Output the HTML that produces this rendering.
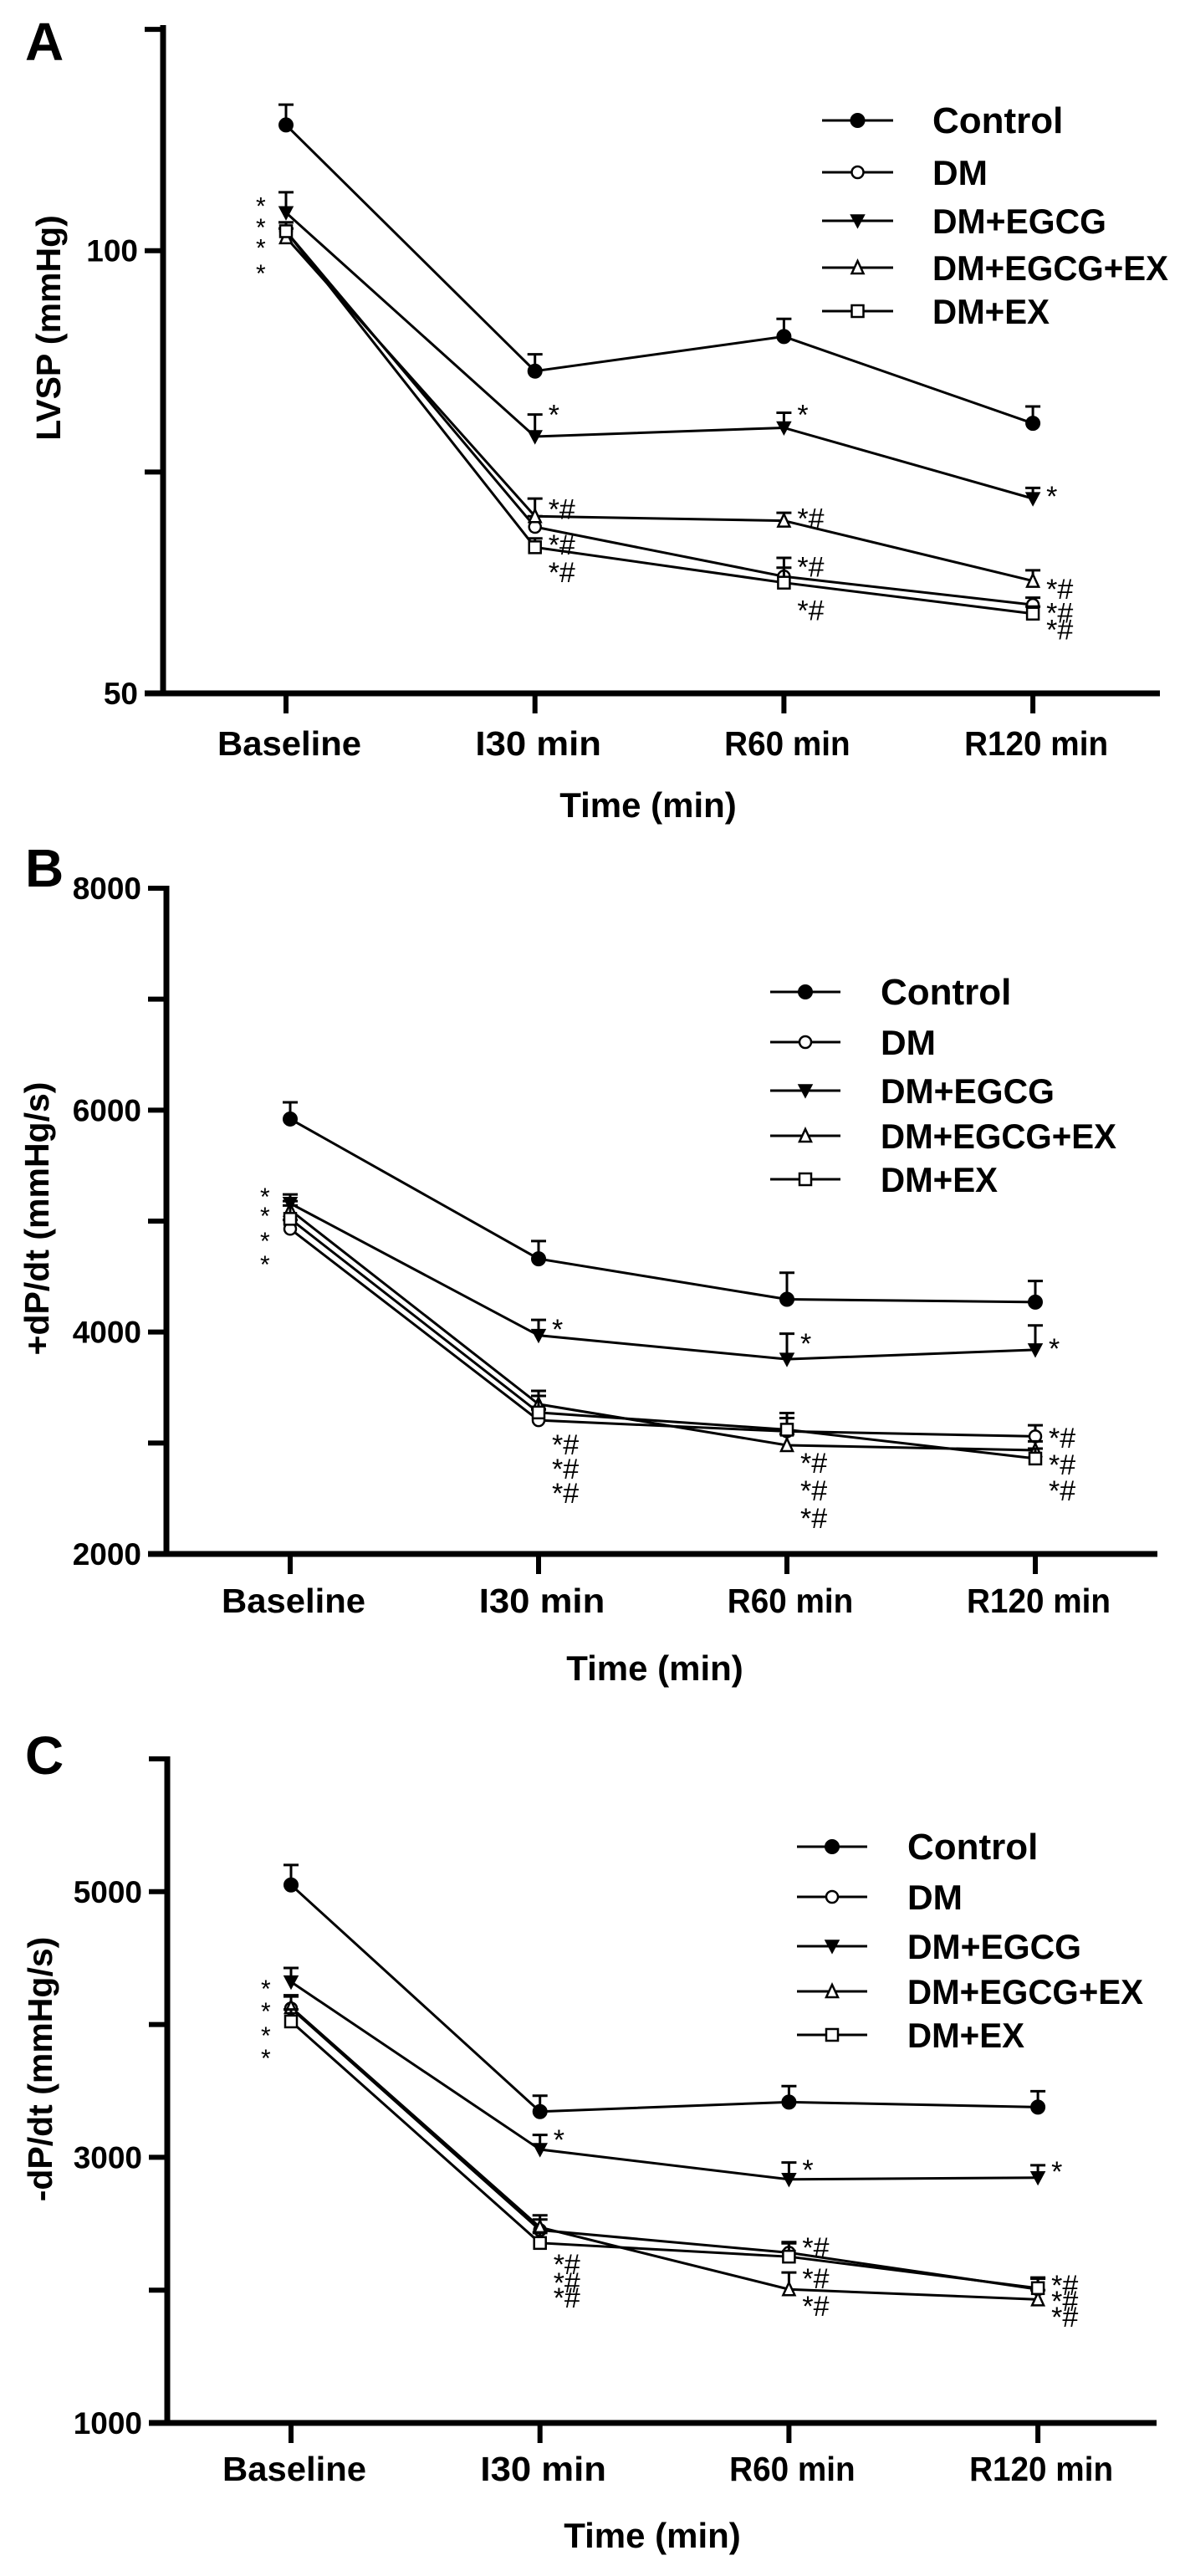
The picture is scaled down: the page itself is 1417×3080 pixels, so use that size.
<!DOCTYPE html>
<html><head><meta charset="utf-8">
<style>
html,body{margin:0;padding:0;background:#fff;}
svg{display:block;font-family:"Liberation Sans",Arial,sans-serif;}
</style></head>
<body>
<svg id="fig" width="1417" height="3080" viewBox="0 0 1417 3080" xmlns="http://www.w3.org/2000/svg"></svg>
<script>
// ---------- shared data ----------
const categories = ["Baseline", "I30 min", "R60 min", "R120 min"];
const seriesNames = ["Control", "DM", "DM+EGCG", "DM+EGCG+EX", "DM+EX"];
const markerTypes = ["filledCircle", "openCircle", "filledDown", "openUp", "openSquare"];

// Panel A: LVSP (mmHg)
const aTicks = [50, 100];
const aControl = [114.2, 86.4, 90.3, 80.5];
const aDM = [102.2, 68.8, 63.2, 60.0];
const aEGCG = [104.3, 79.0, 80.0, 72.0];
const aEGCGEX = [101.5, 70.0, 69.5, 62.7];
const aEX = [102.2, 66.5, 62.5, 59.0];
const aControlErr = [2.3, 1.9, 2.0, 1.9];
const aDMErr = [1.0, 1.2, 1.0, 0.8];
const aEGCGErr = [2.3, 2.5, 1.7, 1.2];
const aEGCGEXErr = [1.0, 2.0, 0.9, 1.2];
const aEXErr = [1.0, 1.0, 2.8, 0.8];
const aAnnotCat = [0,0,0,0, 1,1,1,1, 2,2,2,2, 3,3,3,3];
const aAnnotVal = [105.4,103,100.7,97.8, 81.7,71,67,63.9, 81.7,70,64.5,59.6, 72.5,62,59.3,57.4];
const aAnnotText = ["*","*","*","*", "*","*#","*#","*#", "*","*#","*#","*#", "*","*#","*#","*#"];

// Panel B: +dP/dt (mmHg/s)
const bTicks = [2000, 4000, 6000, 8000];
const bControl = [5920, 4660, 4295, 4270];
const bDM = [4930, 3205, 3105, 3060];
const bEGCG = [5160, 3970, 3755, 3840];
const bEGCGEX = [5100, 3350, 2980, 2935];
const bEX = [5020, 3275, 3120, 2860];
const bControlErr = [150, 160, 240, 190];
const bDMErr = [80, 100, 120, 100];
const bEGCGErr = [80, 140, 230, 220];
const bEGCGEXErr = [80, 120, 100, 80];
const bEXErr = [120, 150, 150, 90];
const bAnnotCat = [0,0,0,0, 1,1,1,1, 2,2,2,2, 3,3,3,3];
const bAnnotVal = [5248,5075,4848,4637, 4042,3002,2784,2565, 3914,2837,2588,2340, 3869,3063,2822,2588];
const bAnnotText = ["*","*","*","*", "*","*#","*#","*#", "*","*#","*#","*#", "*","*#","*#","*#"];

// Panel C: -dP/dt (mmHg/s)
const cTicks = [1000, 3000, 5000];
const cControl = [5051, 3344, 3416, 3378];
const cDM = [4121, 2452, 2282, 2006];
const cEGCG = [4321, 3059, 2834, 2847];
const cEGCGEX = [4130, 2473, 2006, 1930];
const cEX = [4023, 2355, 2252, 2015];
const cControlErr = [150, 120, 120, 120];
const cDMErr = [90, 80, 80, 80];
const cEGCGErr = [105, 110, 127, 93];
const cEGCGEXErr = [90, 90, 127, 70];
const cEXErr = [90, 80, 100, 80];
const cAnnotCat = [0,0,0,0, 1,1,1,1, 2,2,2,2, 3,3,3,3];
const cAnnotVal = [4293,4123,3941,3771, 3147,2209,2070,1957, 2921,2335,2102,1894, 2908,2052,1932,1812];
const cAnnotText = ["*","*","*","*", "*","*#","*#","*#", "*","*#","*#","*#", "*","*#","*#","*#"];

const legendWidths = [0, 66, 208, 282, 140];

const NS = "http://www.w3.org/2000/svg";
const svg = document.getElementById("fig");
function mk(tag, attrs, parent, txt) {
  const e = document.createElementNS(NS, tag);
  for (const k in attrs) e.setAttribute(k, attrs[k]);
  if (txt !== undefined) e.textContent = txt;
  (parent || svg).appendChild(e);
  return e;
}

function drawMarker(g, type, x, y) {
  let m;
  if (type === "filledCircle") m = mk("circle", {cx:x, cy:y, r:8, fill:"#000", stroke:"#000", "stroke-width":2}, g);
  else if (type === "openCircle") m = mk("circle", {cx:x, cy:y, r:7, fill:"#fff", stroke:"#000", "stroke-width":2.5}, g);
  else if (type === "filledDown") m = mk("polygon", {points:`${x-8},${y-7} ${x+8},${y-7} ${x},${y+8}`, fill:"#000", stroke:"#000", "stroke-width":1.5}, g);
  else if (type === "openUp") m = mk("polygon", {points:`${x-7},${y+7} ${x+7},${y+7} ${x},${y-8}`, fill:"#fff", stroke:"#000", "stroke-width":2.5}, g);
  else m = mk("rect", {x:x-7, y:y-7, width:14, height:14, fill:"#fff", stroke:"#000", "stroke-width":2.5}, g);
  return m;
}

function drawPanel(p) {
  const g = mk("g", {});
  
  
  const yScale = v => p.yBottom - (v - p.vMin) / (p.vMax - p.vMin) * (p.yBottom - p.yTop);
  const xScale = i => p.catX[0] + i * (p.catX[1] - p.catX[0]);

  const letter = mk("text", {x:p.letterX, y:p.letterY, "font-size":64, "font-weight":"bold"}, g, p.letter);
  
  

  const yAxis = mk("line", {x1:p.axisX, y1:p.yTop - 3, x2:p.axisX, y2:p.yBottom + 3, stroke:"#000", "stroke-width":7}, g);
  
  
  const xAxis = mk("line", {x1:p.axisX - 22, y1:p.yBottom, x2:p.axisEnd, y2:p.yBottom, stroke:"#000", "stroke-width":7}, g);
  
  

  for (let v = p.vMin; v <= p.vMax + 1e-9; v += p.minorStep) {
    const y = yScale(v);
    const t = mk("line", {x1:p.axisX - 22, y1:y, x2:p.axisX, y2:y, stroke:"#000", "stroke-width":6}, g);
    
    
  }
  p.ticks.forEach(v => {
    const t = mk("text", {x:p.axisX - 30, y:yScale(v) + 13, "font-size":37, "font-weight":"bold", "text-anchor":"end"}, g, String(v));
    
    
  });

  categories.forEach((c, i) => {
    const x = xScale(i);
    const t = mk("line", {x1:x, y1:p.yBottom, x2:x, y2:p.yBottom + 24, stroke:"#000", "stroke-width":6}, g);
    
    
    const l = mk("text", {x:x + 4, y:p.catLabelY, "font-size":41, "font-weight":"bold", "text-anchor":"middle", textLength: c.length*21.5, lengthAdjust:"spacingAndGlyphs"}, g, c);
    
    
  });

  const xt = mk("text", {x:p.xTitleX, y:p.xTitleY, "font-size":42, "font-weight":"bold", "text-anchor":"middle"}, g, "Time (min)");
  
  
  const yt = mk("text", {x:0, y:0, "font-size":41, "font-weight":"bold", "text-anchor":"middle", transform:`translate(${p.yTitleX},${p.yTitleY}) rotate(-90)`}, g, p.yTitle);
  
  

  p.series.forEach((s, si) => {
    const sg = mk("g", {}, g);
    
    
    const pts = s.vals.map((v, i) => `${xScale(i)},${yScale(v)}`).join(" ");
    const line = mk("polyline", {points:pts, fill:"none", stroke:"#000", "stroke-width":3}, sg);
    
    
    s.vals.forEach((v, i) => {
      const x = xScale(i), y = yScale(v), ye = yScale(v + s.err[i]);
      const eb = mk("path", {d:`M${x},${y} V${ye} M${x-9},${ye} H${x+9}`, stroke:"#000", "stroke-width":3, fill:"none"}, sg);
      
      
    });
    s.vals.forEach((v, i) => {
      const m = drawMarker(sg, markerTypes[si], xScale(i), yScale(v));
      
      
    });
  });

  p.annCat.forEach((ci, k) => {
    const isBase = ci === 0;
    const x = isBase ? xScale(ci) - 36 : xScale(ci) + 16;
    const a = mk("text", {x:x, y:yScale(p.annVal[k]) + 14, "font-size":isBase ? 30 : 34, "font-weight":"normal"}, g, p.annText[k]);
    
    
  });

  seriesNames.forEach((n, i) => {
    const lg = mk("g", {}, g);
    
    
    const y = p.legY[i];
    mk("line", {x1:p.legX1, y1:y, x2:p.legX2, y2:y, stroke:"#000", "stroke-width":3}, lg);
    drawMarker(lg, markerTypes[i], (p.legX1 + p.legX2) / 2, y);
    const attrs = {x:p.legTextX, y:y + 15, "font-size":i === 0 ? 44 : 42, "font-weight":"bold"};
    if (i > 0) { attrs.textLength = legendWidths[i]; attrs.lengthAdjust = "spacingAndGlyphs"; }
    mk("text", attrs, lg, n);
  });
}

drawPanel({
  name:"panel-a-lvsp", letter:"A", letterX:30, letterY:72,
  axisX:195, axisEnd:1387, yTop:33, yBottom:829, vMin:50, vMax:125.2, minorStep:25,
  ticks:aTicks, catX:[342, 639.7], catLabelY:903,
  xTitleX:775, xTitleY:977, yTitle:"LVSP (mmHg)", yTitleX:72, yTitleY:392,
  series:[{vals:aControl, err:aControlErr},{vals:aDM, err:aDMErr},{vals:aEGCG, err:aEGCGErr},{vals:aEGCGEX, err:aEGCGEXErr},{vals:aEX, err:aEXErr}],
  annCat:aAnnotCat, annVal:aAnnotVal, annText:aAnnotText,
  legX1:983, legX2:1068, legTextX:1115, legY:[144, 206, 264, 320, 372]
});
drawPanel({
  name:"panel-b-plus-dpdt", letter:"B", letterX:30, letterY:1060,
  axisX:199, axisEnd:1384, yTop:1062, yBottom:1858, vMin:2000, vMax:8000, minorStep:1000,
  ticks:bTicks, catX:[347, 644], catLabelY:1928,
  xTitleX:783, xTitleY:2009, yTitle:"+dP/dt (mmHg/s)", yTitleX:58, yTitleY:1457,
  series:[{vals:bControl, err:bControlErr},{vals:bDM, err:bDMErr},{vals:bEGCG, err:bEGCGErr},{vals:bEGCGEX, err:bEGCGEXErr},{vals:bEX, err:bEXErr}],
  annCat:bAnnotCat, annVal:bAnnotVal, annText:bAnnotText,
  legX1:921, legX2:1005, legTextX:1053, legY:[1186, 1246, 1304, 1358, 1410]
});
drawPanel({
  name:"panel-c-minus-dpdt", letter:"C", letterX:30, letterY:2121,
  axisX:200, axisEnd:1383, yTop:2103, yBottom:2897, vMin:1000, vMax:6000, minorStep:1000,
  ticks:cTicks, catX:[348, 645.7], catLabelY:2966,
  xTitleX:780, xTitleY:3046, yTitle:"-dP/dt (mmHg/s)", yTitleX:62, yTitleY:2474,
  series:[{vals:cControl, err:cControlErr},{vals:cDM, err:cDMErr},{vals:cEGCG, err:cEGCGErr},{vals:cEGCGEX, err:cEGCGEXErr},{vals:cEX, err:cEXErr}],
  annCat:cAnnotCat, annVal:cAnnotVal, annText:cAnnotText,
  legX1:953, legX2:1037, legTextX:1085, legY:[2208, 2268, 2327, 2381, 2433]
});
</script>
</body></html>
